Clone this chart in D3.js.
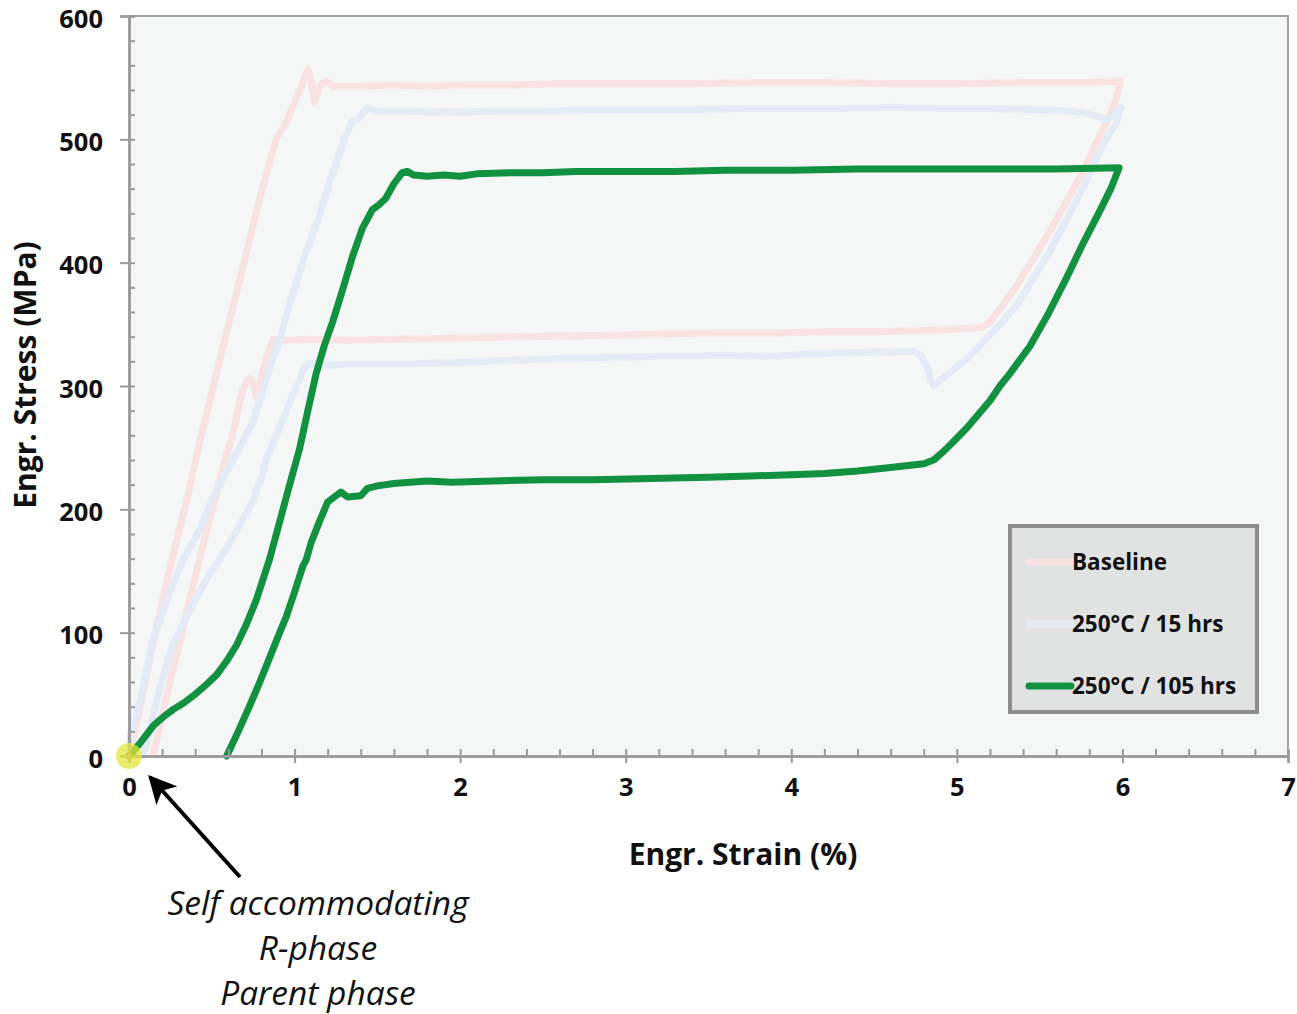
<!DOCTYPE html>
<html>
<head>
<meta charset="utf-8">
<script src="https://cdn.jsdelivr.net/npm/d3@7"></script>
<style>
  body { margin: 0; background: #fff; }
  svg { display: block; font-family: "Open Sans", "Liberation Sans", sans-serif; }
</style>
</head>
<body>
<div id="chart"></div>
<script>
const width = 1297;
const height = 1014;
const margin = { top: 16, right: 9, bottom: 258, left: 129 };

// Series names and colours
const seriesNames = ["Baseline", "250°C / 15 hrs", "250°C / 105 hrs"];
const seriesColors = ["#f8e2e2", "#e4ebf6", "#129141"];

// Tick values
const xTicks = [0, 1, 2, 3, 4, 5, 6, 7];
const yTicks = [0, 100, 200, 300, 400, 500, 600];

// [strain %, stress MPa] (loading, then unloading)
const baseline = [
  [0, 0], [0.07, 41], [0.15, 95], [0.25, 154], [0.35, 208], [0.43, 256], [0.49, 289],
  [0.56, 328], [0.65, 376], [0.72, 414], [0.79, 452], [0.85, 482], [0.89, 500],
  [0.95, 514], [1.0, 530], [1.04, 542], [1.08, 557], [1.1, 548], [1.12, 530],
  [1.14, 538], [1.16, 545], [1.19, 547], [1.23, 543], [1.4, 543], [1.6, 544],
  [1.8, 543], [2.0, 544], [2.3, 544], [2.6, 545], [3.0, 545], [3.4, 545], [3.8, 546],
  [4.2, 546], [4.6, 545], [5.0, 545], [5.4, 546], [5.8, 546], [5.99, 547],
  [5.96, 532], [5.92, 519], [5.84, 496], [5.76, 473], [5.66, 449], [5.56, 425],
  [5.46, 403], [5.36, 381], [5.28, 366], [5.2, 352], [5.16, 348], [5.0, 346],
  [4.8, 345], [4.5, 344], [4.2, 344], [3.9, 343], [3.5, 343], [3.15, 342], [2.8, 341],
  [2.4, 340], [2.0, 339], [1.64, 338], [1.3, 337], [1.1, 338], [0.95, 337], [0.87, 338],
  [0.85, 330], [0.83, 322], [0.79, 302], [0.77, 291], [0.75, 302], [0.73, 306],
  [0.71, 304], [0.69, 298], [0.66, 282], [0.63, 263], [0.58, 240], [0.53, 214],
  [0.48, 188], [0.43, 162], [0.35, 117], [0.3, 88], [0.25, 62], [0.2, 32], [0.15, 3]
];

const aged15 = [
  [0, 0], [0.01, 19], [0.07, 46], [0.145, 95], [0.23, 127], [0.33, 160], [0.43, 184],
  [0.5, 208], [0.63, 241], [0.75, 271], [0.83, 306], [0.91, 338], [0.98, 371],
  [1.06, 405], [1.15, 438], [1.21, 465], [1.26, 484], [1.3, 500], [1.32, 506],
  [1.35, 515], [1.38, 516], [1.41, 521], [1.44, 525], [1.5, 523], [1.7, 523],
  [1.9, 522], [2.2, 523], [2.5, 523], [2.8, 524], [3.1, 524], [3.4, 524], [3.7, 525],
  [4.0, 525], [4.3, 525], [4.6, 526], [4.9, 525], [5.2, 525], [5.5, 524], [5.7, 523],
  [5.82, 520], [5.9, 516], [5.95, 520], [5.99, 526],
  [5.96, 512], [5.9, 500], [5.83, 480], [5.76, 460], [5.66, 434], [5.56, 409],
  [5.46, 387], [5.36, 365], [5.26, 350], [5.16, 336], [5.06, 322], [4.96, 311],
  [4.9, 305], [4.86, 300], [4.84, 306], [4.82, 316], [4.78, 325], [4.74, 328],
  [4.66, 328], [4.4, 327], [4.1, 326], [3.9, 324], [3.6, 325], [3.15, 324], [2.8, 323],
  [2.5, 322], [2.2, 320], [2.0, 319], [1.7, 318], [1.4, 318], [1.2, 317], [1.08, 318],
  [1.05, 312], [1.03, 305], [0.98, 290], [0.93, 273], [0.88, 257], [0.83, 241],
  [0.8, 225], [0.75, 208], [0.68, 190], [0.61, 173], [0.54, 158], [0.47, 144],
  [0.41, 129], [0.35, 114], [0.31, 103], [0.27, 92], [0.23, 75], [0.19, 57],
  [0.16, 40], [0.13, 24], [0.1, 8], [0.085, 0]
];

const aged105 = [
  [0, 0], [0.02, 3], [0.07, 11], [0.15, 25], [0.21, 32], [0.27, 38], [0.33, 43],
  [0.39, 49], [0.46, 57], [0.53, 66], [0.59, 77], [0.65, 90], [0.71, 107],
  [0.77, 127], [0.85, 160], [0.9, 185], [0.96, 215], [1.03, 249], [1.08, 280],
  [1.13, 310], [1.18, 333], [1.23, 352], [1.29, 378], [1.35, 405], [1.41, 428],
  [1.47, 443], [1.51, 447], [1.55, 452], [1.6, 464], [1.65, 473], [1.68, 474],
  [1.72, 471], [1.8, 470], [1.9, 471], [2.0, 470], [2.1, 472], [2.3, 473], [2.5, 473],
  [2.7, 474], [3.0, 474], [3.3, 474], [3.6, 475], [4.0, 475], [4.4, 476], [4.8, 476],
  [5.2, 476], [5.6, 476], [5.98, 477],
  [5.93, 460], [5.86, 441], [5.76, 415], [5.66, 387], [5.55, 358], [5.44, 332],
  [5.32, 310], [5.26, 300], [5.2, 288], [5.06, 266], [4.98, 255], [4.92, 247],
  [4.86, 240], [4.8, 237], [4.6, 234], [4.4, 231], [4.2, 229], [4.0, 228], [3.75, 227],
  [3.5, 226], [3.15, 225], [2.8, 224], [2.5, 224], [2.2, 223], [1.95, 222], [1.8, 223],
  [1.6, 221], [1.5, 219], [1.44, 217], [1.4, 211], [1.32, 210], [1.28, 214],
  [1.25, 211], [1.2, 206], [1.15, 190], [1.1, 173], [1.07, 159], [1.05, 154],
  [1.0, 133], [0.95, 113], [0.91, 100], [0.85, 80], [0.79, 60], [0.73, 41],
  [0.66, 20], [0.59, 0]
];

const allSeries = [baseline, aged15, aged105];

const svg = d3.select("#chart")
  .append("svg")
  .attr("width", width)
  .attr("height", height);

const x = d3.scaleLinear()
  .domain([0, 7])
  .range([margin.left, width - margin.right]);

const y = d3.scaleLinear()
  .domain([0, 600])
  .range([height - margin.bottom, margin.top]);

// Plot background
svg.append("rect")
  .attr("x", x(0))
  .attr("y", y(600))
  .attr("width", x(7) - x(0))
  .attr("height", y(0) - y(600))
  .attr("fill", "#f5f7f6");

// Top and right frame
svg.append("path")
  .attr("d", `M${x(0)},${y(600)}H${x(7)}V${y(0)}`)
  .attr("fill", "none")
  .attr("stroke", "#a3a3a3")
  .attr("stroke-width", 2);

// Curves
const line = d3.line()
  .x(d => x(d[0]))
  .y(d => y(d[1]))
  .curve(d3.curveLinear);

allSeries.forEach((data, i) => {
  svg.append("path")
    .datum(data)
    .attr("d", line)
    .attr("fill", "none")
    .attr("stroke", seriesColors[i])
    .attr("stroke-width", 7)
    .attr("stroke-linejoin", "round")
    .attr("stroke-linecap", "round");
});

// Axes: major ticks outside, minor ticks inside
const axisColor = "#9a9a9a";

const xMajor = svg.append("g")
  .attr("transform", `translate(0,${y(0)})`)
  .call(d3.axisBottom(x).tickValues(xTicks).tickSize(7).tickPadding(15).tickFormat(d3.format("d")));
const xMinor = svg.append("g")
  .attr("transform", `translate(0,${y(0)})`)
  .call(d3.axisBottom(x).tickValues(d3.range(0, 7.01, 0.2)).tickSize(-7).tickFormat(""));

const yMajor = svg.append("g")
  .attr("transform", `translate(${x(0)},0)`)
  .call(d3.axisLeft(y).tickValues(yTicks).tickSize(9).tickPadding(17).tickFormat(d3.format("d")));
const yMinor = svg.append("g")
  .attr("transform", `translate(${x(0)},0)`)
  .call(d3.axisLeft(y).tickValues(d3.range(0, 601, 20)).tickSize(-6).tickFormat(""));

[xMajor, xMinor, yMajor, yMinor].forEach(g => {
  g.selectAll(".domain").attr("stroke", axisColor).attr("stroke-width", 2.5);
  g.selectAll(".tick line").attr("stroke", axisColor).attr("stroke-width", 2);
  g.selectAll(".tick text")
    .attr("fill", "#111")
    .attr("font-size", "25.5px")
    .attr("font-weight", "bold")
    .attr("font-family", "'Open Sans', sans-serif");
});
yMajor.selectAll(".tick text").attr("dy", "0.44em");

// Axis titles
svg.append("text")
  .attr("x", 743)
  .attr("y", 865)
  .attr("text-anchor", "middle")
  .attr("font-size", "30px")
  .attr("font-weight", "bold")
  .attr("fill", "#111")
  .text("Engr. Strain (%)");

svg.append("text")
  .attr("transform", "rotate(-90)")
  .attr("x", -375)
  .attr("y", 36)
  .attr("text-anchor", "middle")
  .attr("font-size", "30px")
  .attr("font-weight", "bold")
  .attr("fill", "#111")
  .text("Engr. Stress (MPa)");

// Legend
const legend = svg.append("g").attr("transform", "translate(1008,524)");
legend.append("rect")
  .attr("x", 2)
  .attr("y", 2)
  .attr("width", 247)
  .attr("height", 186)
  .attr("fill", "#e1e2e2")
  .attr("stroke", "#8c8c8c")
  .attr("stroke-width", 4);

seriesNames.forEach((name, i) => {
  const ly = 38 + i * 62;
  legend.append("line")
    .attr("x1", 21)
    .attr("x2", 63)
    .attr("y1", ly)
    .attr("y2", ly)
    .attr("stroke", seriesColors[i])
    .attr("stroke-width", 7)
    .attr("stroke-linecap", "round");
  legend.append("text")
    .attr("x", 64)
    .attr("y", ly + 8)
    .attr("font-size", "22.5px")
    .attr("font-weight", "bold")
    .attr("fill", "#111")
    .text(name);
});

// Highlight at the origin
svg.append("circle")
  .attr("cx", x(0))
  .attr("cy", y(0))
  .attr("r", 13)
  .attr("fill", "#e4e63a")
  .attr("opacity", 0.75);

// Annotation arrow
svg.append("defs").append("marker")
  .attr("id", "arrowHead")
  .attr("viewBox", "0 0 10 10")
  .attr("refX", 9)
  .attr("refY", 5)
  .attr("markerWidth", 7)
  .attr("markerHeight", 7)
  .attr("markerUnits", "strokeWidth")
  .attr("orient", "auto")
  .append("path")
  .attr("d", "M0,0 L10,5 L0,10 L2.5,5 Z")
  .attr("fill", "#000");

svg.append("line")
  .attr("x1", 240)
  .attr("y1", 877)
  .attr("x2", 150)
  .attr("y2", 777)
  .attr("stroke", "#000")
  .attr("stroke-width", 4)
  .attr("marker-end", "url(#arrowHead)");

const noteLines = ["Self accommodating", "R-phase", "Parent phase"];
noteLines.forEach((t, i) => {
  svg.append("text")
    .attr("x", 318)
    .attr("y", 915 + i * 45)
    .attr("text-anchor", "middle")
    .attr("font-size", "33.5px")
    .attr("font-style", "italic")
    .attr("fill", "#111")
    .text(t);
});
</script>
</body>
</html>
